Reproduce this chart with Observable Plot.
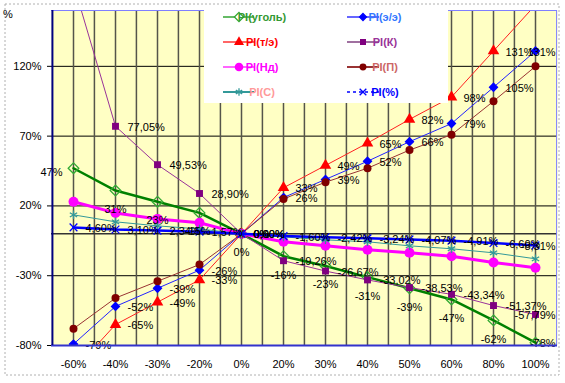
<!DOCTYPE html>
<html><head><meta charset="utf-8">
<script src="https://cdn.jsdelivr.net/npm/d3@7"></script>
<script src="https://cdn.jsdelivr.net/npm/@observablehq/plot@0.6"></script>
<style>body{margin:0;background:#fff} svg{display:block}</style>
</head><body><div id="chart"></div>
<script>
// ---- data ----
const categories = ["-60%","-40%","-30%","-20%","0%","20%","30%","40%","50%","60%","80%","100%"];
const piCoal = [47, 31, 23, 15, 0, -16, -23, -31, -39, -47, -62, -78];
const piEE   = [-79, -52, -39, -26, 0, 26, 39, 52, 66, 79, 105, 131];
const piTE   = [-98, -65, -49, -33, 0, 33, 49, 65, 82, 98, 131, 164];
const piK    = [179, 77.05, 49.53, 28.90, 0, -19.26, -26.67, -33.02, -38.53, -43.34, -51.37, -57.79];
const piNd   = [23, 15, 10.7, 7.9, 0, -5.7, -8.6, -11.4, -13.6, -16, -20.5, -24.3];
const piP    = [-68, -46, -34, -22, 0, 25, 37, 47, 60, 71, 95, 120];
const piS    = [13.6, 8.6, 5.7, 3.5, 0, -2.2, -4.3, -5.7, -8.6, -10.7, -13.6, -17.9];
const piPct  = [4.60, 3.10, 2.34, 1.57, 0, -1.60, -2.42, -3.24, -4.07, -4.91, -6.60, -8.31];
const yTicks = [-80, -30, 20, 70, 120];
const yDomain = [-80, 160];

// ---- series styles ----
const series = [
  {name:"PI(уголь)", values:piCoal, line:"#008000", lw:2.5, symbol:"diamond2", fill:"none", mstroke:"#33AA33", r:4.8, txt:"#339933", lgLine:"#66BB66", label:"below", dec:0},
  {name:"PI(э/э)", values:piEE, line:"#2222FF", lw:1, symbol:"diamond2", fill:"#0000FF", mstroke:"#0000FF", r:3.6, txt:"#3377FF", lgLine:"#6666FF", label:"right", dec:0},
  {name:"PI(т/э)", values:piTE, line:"#FF2020", lw:1, symbol:"triangle", fill:"#FF0000", mstroke:"none", r:4.3, txt:"#FF0000", lgLine:"#FF6666", label:"right", dec:0},
  {name:"PI(К)", values:piK, line:"#993399", lw:1, symbol:"square", fill:"#800080", mstroke:"none", r:3.9, txt:"#993399", lgLine:"#A070A0", label:"right", dec:2},
  {name:"PI(Нд)", values:piNd, line:"#FF00FF", lw:3, symbol:"circle", fill:"#FF00FF", mstroke:"none", r:5, txt:"#FF00FF", lgLine:"#FF66FF", label:null, dec:0},
  {name:"PI(П)", values:piP, line:"#993333", lw:1, symbol:"circle", fill:"#800000", mstroke:"none", r:4, txt:"#CC6666", lgLine:"#993333", label:null, dec:0},
  {name:"PI(С)", values:piS, line:"#339999", lw:1, symbol:"asterisk", fill:"none", mstroke:"#339999", r:4, txt:"#FF9999", lgLine:"#339999", label:null, dec:0},
  {name:"PI(%)", values:piPct, line:"#0000FF", lw:2.5, symbol:"times", fill:"none", mstroke:"#0000FF", r:3.6, txt:"#0000FF", lgLine:"#0000FF", label:"right", dec:2, dash:"3,3"}
];

const fmtLabel = (v, dec) => dec === 0 ? Math.round(v) + "%" : v.toFixed(dec).replace(".", ",") + "%";

const W = 565, H = 383, mL = 51, mR = 8, mT = 10, mB = 38;
const step = (W - mL - mR) / categories.length;
const firstCat = categories[0];
const lastCat = categories[categories.length - 1];

const marks = [
  Plot.frame({fill: "#FFFFC4"}),
  Plot.ruleY(yTicks.slice(1), {stroke: "#000", strokeWidth: 1}),
  Plot.ruleX(categories, {x: d => d, stroke: "#55554a", strokeWidth: 1.5}),
  Plot.ruleX(categories.slice(1), {x: d => d, dx: -step / 2, stroke: "#55554a", strokeWidth: 1.5}),
  Plot.ruleY([0], {stroke: "#333", strokeWidth: 1.5})
];

for (const s of series) {
  const rows = categories.map((c, i) => ({cat: c, v: s.values[i]}));
  marks.push(Plot.line(rows, {x: "cat", y: "v", stroke: s.line, strokeWidth: s.lw, clip: true}));
  marks.push(Plot.dot(rows, {x: "cat", y: "v", symbol: s.symbol, r: s.r, fill: s.fill, stroke: s.mstroke, strokeWidth: 1.3, clip: true}));
}
for (const s of series) {
  if (!s.label) continue;
  const rows = categories.map((c, i) => ({cat: c, v: s.values[i]}))
    .filter(d => d.v >= yDomain[0] && d.v <= yDomain[1]);
  const below = s.label === "below";
  const inner = rows.filter(d => d.cat !== lastCat && !(below && d.cat === firstCat));
  const edge = rows.filter(d => d.cat === lastCat);
  const opts = below
    ? {dx: 0, dy: 19, textAnchor: "middle"}
    : {dx: 12, dy: 1, textAnchor: "start"};
  const text = d => fmtLabel(d.v, s.dec);
  marks.push(Plot.text(inner, {x: "cat", y: "v", text, fill: "#000", fontSize: 11, ...opts}));
  if (below) {
    // first label sits left of its point (no room below the legend-side data)
    marks.push(Plot.text(rows.filter(d => d.cat === firstCat), {x: "cat", y: "v", text, fill: "#000", fontSize: 11,
      dx: -11, dy: 4, textAnchor: "end"}));
  }
  // Labels at the last category are kept inside the plot area (as the spreadsheet does)
  marks.push(Plot.text(edge, {x: "cat", y: "v", text, fill: "#000", fontSize: 11,
    dx: step / 2 - 1, dy: 1, textAnchor: "end"}));
}
// borders
marks.push(Plot.ruleY([yDomain[1]], {stroke: "#7f7fff", strokeWidth: 1}));
marks.push(Plot.ruleX([lastCat], {x: d => d, dx: step / 2, stroke: "#7f7fff", strokeWidth: 1}));
marks.push(Plot.ruleY([yDomain[0]], {stroke: "#3333cc", strokeWidth: 2}));
marks.push(Plot.ruleX([firstCat], {x: d => d, dx: -step / 2, stroke: "#000080", strokeWidth: 2}));

const svg = Plot.plot({
  width: W, height: H,
  marginLeft: mL, marginRight: mR, marginTop: mT, marginBottom: mB,
  style: {fontFamily: "'Liberation Sans', Arial, sans-serif", fontSize: "11px", background: "white", color: "#000", overflow: "visible"},
  x: {type: "point", domain: categories, padding: 0.5, tickSize: 0, tickPadding: 15, label: null},
  y: {domain: yDomain, ticks: yTicks, tickFormat: d => d + "%", tickSize: 4, tickPadding: 6, label: null},
  marks
});
document.getElementById("chart").append(svg);

// ---- decorations: outer border, % label, legend ----
const root = d3.select(svg);
root.insert("rect", ":first-child")
  .attr("x", 5).attr("y", 4).attr("width", 554).attr("height", 371)
  .attr("fill", "none").attr("stroke", "#b0b0b0").attr("stroke-dasharray", "2,2");
root.append("text").attr("x", 8).attr("y", 18).attr("font-size", 11)
  .attr("font-family", "'Liberation Sans', Arial, sans-serif").text("%");

const lg = root.append("g");
lg.append("rect").attr("x", 204).attr("y", 5).attr("width", 244).attr("height", 98).attr("fill", "#fff");
const symMap = {diamond2: d3.symbolDiamond2 || d3.symbolDiamond, triangle: d3.symbolTriangle, square: d3.symbolSquare,
  circle: d3.symbolCircle, asterisk: d3.symbolAsterisk || d3.symbolCross, times: d3.symbolTimes || d3.symbolCross};
series.forEach((s, i) => {
  const col = i % 2, row = Math.floor(i / 2);
  const y = 17 + row * 25;
  const x0 = col === 0 ? 223 : 347, x1 = col === 0 ? 254 : 379, xm = col === 0 ? 239 : 363, xt = col === 0 ? 262 : 385;
  lg.append("line").attr("x1", x0).attr("x2", x1).attr("y1", y).attr("y2", y)
    .attr("stroke", s.lgLine).attr("stroke-width", s.dash ? 1.5 : 2).attr("stroke-dasharray", s.dash || null);
  lg.append("path").attr("transform", `translate(${xm},${y})`)
    .attr("d", d3.symbol(symMap[s.symbol], Math.PI * s.r * s.r * 0.75)())
    .attr("fill", s.fill === "none" ? "#fff" : s.fill).attr("stroke", s.mstroke).attr("stroke-width", 1.3);
  lg.append("text").attr("x", xt).attr("y", y + 4).attr("font-size", 11).attr("font-weight", "bold")
    .attr("font-family", "'Liberation Sans', Arial, sans-serif").attr("fill", s.txt).text(s.name);
});
</script>
</body></html>
